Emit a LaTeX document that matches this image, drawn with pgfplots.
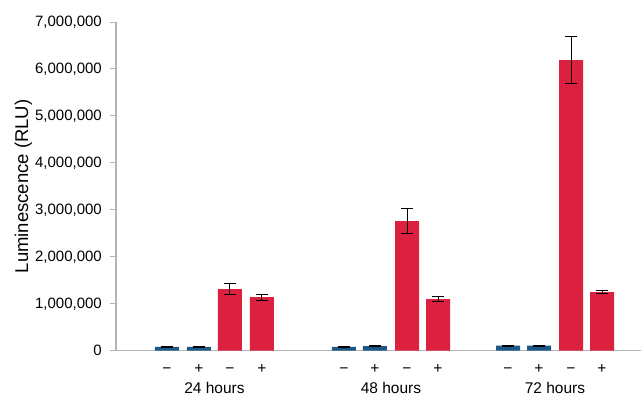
\documentclass[border=0pt]{standalone}
\usepackage{fontspec}
\setmainfont{Liberation Sans}
\usepackage{pgfplots}
\pgfplotsset{compat=1.18}
\usepackage{pgfplotstable}
\definecolor{barblue}{RGB}{27,88,136}
\definecolor{barred}{RGB}{219,32,64}
\definecolor{axgray}{RGB}{180,180,180}
\pgfplotstableread{
x y e
51 80000 8000
83 80000 8000
228 80000 8000
259 95000 8000
392 107000 8000
423 107000 8000
}\blue
\pgfplotstableread{
x y e
114 1310000 117000
146 1140000 64000
291 2760000 263000
322 1100000 53000
455 6190000 493000
486 1250000 35000
}\red
\begin{document}
\begin{tikzpicture}
\useasboundingbox (0,0) rectangle (641pt,396pt);
\begin{axis}[
  at={(116pt,45.3pt)}, anchor=south west,
  scale only axis, width=525pt, height=328.7pt,
  xmin=0, xmax=525, ymin=0, ymax=7000000,
  axis lines*=left,
  axis line style={axgray, line width=1.1pt, -},
  ytick={0,1000000,...,7000000},
  scaled y ticks=false,
  /pgf/number format/assume math mode=true,
  yticklabel={\pgfmathprintnumber[fixed, precision=0, 1000 sep={,}]{\tick}},
  yticklabel style={font=\fontsize{15}{18}\selectfont, anchor=east, inner sep=0pt, xshift=-8pt},
  tick align=outside, major tick length=6pt,
  ytick style={axgray, line width=1pt},
  xtick={51,83,114,146,228,259,291,322,392,423,455,486},
  xticklabels={−,+,−,+,−,+,−,+,−,+,−,+},
  xtick style={draw=none},
  xticklabel style={font=\fontsize{15.5}{18}\selectfont, anchor=base, inner sep=0pt, yshift=-17.3pt},
  ylabel={Luminescence (RLU)},
  ylabel style={font=\fontsize{18.5}{22}\selectfont, at={(axis description cs:-0.1676,0.5)}, anchor=base},
  clip=false,
  ybar, bar width=24,
]
\addplot[ybar, bar shift=0pt, fill=barblue, draw=none,
  error bars/.cd, y dir=both, y explicit,
  error bar style={black, line width=1pt},
  error mark options={black, line width=1pt, mark size=6pt, rotate=90}]
  table[x=x, y=y, y error=e] {\blue};
\addplot[ybar, bar shift=0pt, fill=barred, draw=none,
  error bars/.cd, y dir=both, y explicit,
  error bar style={black, line width=1pt},
  error mark options={black, line width=1pt, mark size=6pt, rotate=90}]
  table[x=x, y=y, y error=e] {\red};
\node[font=\fontsize{15.5}{18}\selectfont, anchor=base, inner sep=0pt] at (axis cs:98.5,0) [yshift=-43.3pt] {24 hours};
\node[font=\fontsize{15.5}{18}\selectfont, anchor=base, inner sep=0pt] at (axis cs:275,0) [yshift=-43.3pt] {48 hours};
\node[font=\fontsize{15.5}{18}\selectfont, anchor=base, inner sep=0pt] at (axis cs:439,0) [yshift=-43.3pt] {72 hours};
\end{axis}
\end{tikzpicture}
\end{document}
